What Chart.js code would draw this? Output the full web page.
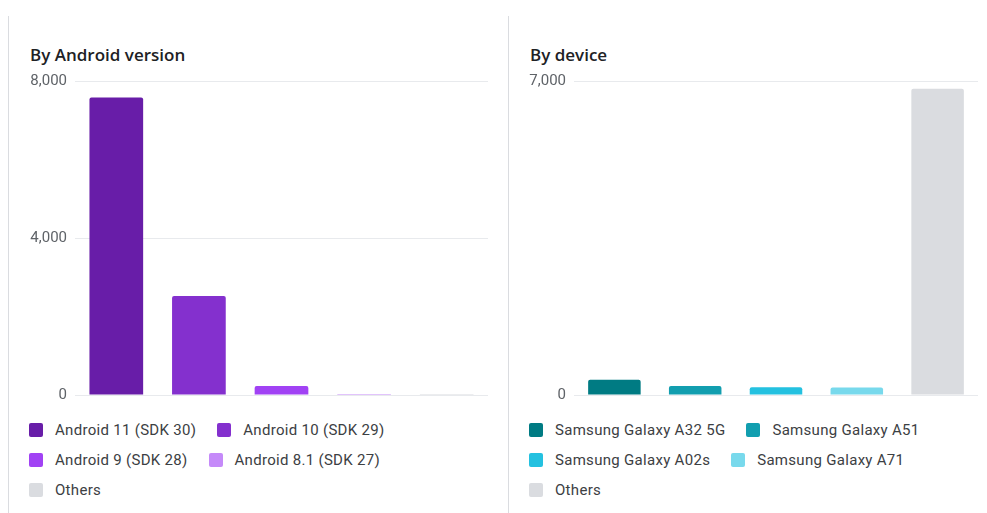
<!DOCTYPE html>
<html>
<head>
<meta charset="utf-8">
<script src="https://cdn.jsdelivr.net/npm/chart.js@4/dist/chart.umd.min.js"></script>
<style>
  body { margin: 0; background: #fff; width: 987px; height: 513px; position: relative; overflow: hidden; }
  .panel { position: absolute; top: 16px; height: 497px; border-left: 1px solid #dadce0; }
  .title { position: absolute; top: 43px; font-family: "Open Sans", sans-serif; font-size: 17px; font-weight: 600; color: #202124; }
  .box { position: absolute; top: 70px; height: 335px; }
  .legend { position: absolute; top: 415px; width: 440px; display: flex; flex-wrap: wrap;
            font-family: Roboto, sans-serif; font-size: 15px; letter-spacing: 0.3px; color: #3c4043; }
  .item { display: flex; align-items: center; height: 30px; margin-right: 21px; }
  .sw { width: 14px; height: 14px; border-radius: 2px; margin-right: 12px; }
</style>
</head>
<body>
<div class="panel" style="left:8px;width:499px"></div>
<div class="panel" style="left:508px;width:478px"></div>
<div class="title" style="left:30px">By Android version</div>
<div class="title" style="left:530px">By device</div>
<div class="box" style="left:0;width:500px"><canvas id="c1"></canvas></div>
<div class="box" style="left:500px;width:487px"><canvas id="c2"></canvas></div>
<div class="legend" id="l1" style="left:29px"></div>
<div class="legend" id="l2" style="left:529px"></div>
<script>
// values
var androidLabels = ["Android 11 (SDK 30)", "Android 10 (SDK 29)", "Android 9 (SDK 28)", "Android 8.1 (SDK 27)", "Others"];
var androidValues = [7580, 2520, 230, 25, 2];
var androidColors = ["#681da8", "#8430ce", "#a142f4", "#c58af9", "#dadce0"];
var androidTicks = [0, 4000, 8000];

var deviceLabels = ["Samsung Galaxy A32 5G", "Samsung Galaxy A51", "Samsung Galaxy A02s", "Samsung Galaxy A71", "Others"];
var deviceValues = [340, 200, 172, 168, 6830];
var deviceColors = ["#007b83", "#129eaf", "#24c1e0", "#78d9ec", "#dadce0"];
var deviceTicks = [0, 7000];

function makeLegend(id, labels, colors) {
  var el = document.getElementById(id);
  for (var i = 0; i < labels.length; i++) {
    var it = document.createElement('div');
    it.className = 'item';
    it.innerHTML = '<div class="sw" style="background:' + colors[i] + '"></div><span>' + labels[i] + '</span>';
    el.appendChild(it);
  }
}

function makeChart(id, labels, values, colors, ticks, axisWidth, padRight) {
  new Chart(document.getElementById(id), {
    type: 'bar',
    data: {
      labels: labels,
      datasets: [{
        data: values,
        backgroundColor: colors,
        borderRadius: 2,
        borderSkipped: 'bottom',
        categoryPercentage: 1,
        barPercentage: 0.65
      }]
    },
    options: {
      responsive: true,
      maintainAspectRatio: false,
      animation: false,
      layout: { padding: { top: 11, bottom: 10, left: 0, right: padRight } },
      plugins: { legend: { display: false }, tooltip: { enabled: false } },
      scales: {
        x: { display: false },
        y: {
          min: ticks[0],
          max: ticks[ticks.length - 1],
          afterBuildTicks: function (s) { s.ticks = ticks.map(function (v) { return { value: v }; }); },
          afterFit: function (s) { s.width = axisWidth; s.paddingTop = 0; s.paddingBottom = 0; },
          border: { display: false },
          grid: { color: '#e8eaed', lineWidth: 1, drawTicks: false },
          ticks: {
            padding: 8,
            color: '#5f6368',
            font: { family: 'Roboto', size: 15 },
            callback: function (v) { return v.toLocaleString('en-US'); }
          }
        }
      }
    }
  });
}

makeChart('c1', androidLabels, androidValues, androidColors, androidTicks, 75, 12);
makeChart('c2', deviceLabels, deviceValues, deviceColors, deviceTicks, 74, 9);
makeLegend('l1', androidLabels, androidColors);
makeLegend('l2', deviceLabels, deviceColors);
</script>
</body>
</html>
